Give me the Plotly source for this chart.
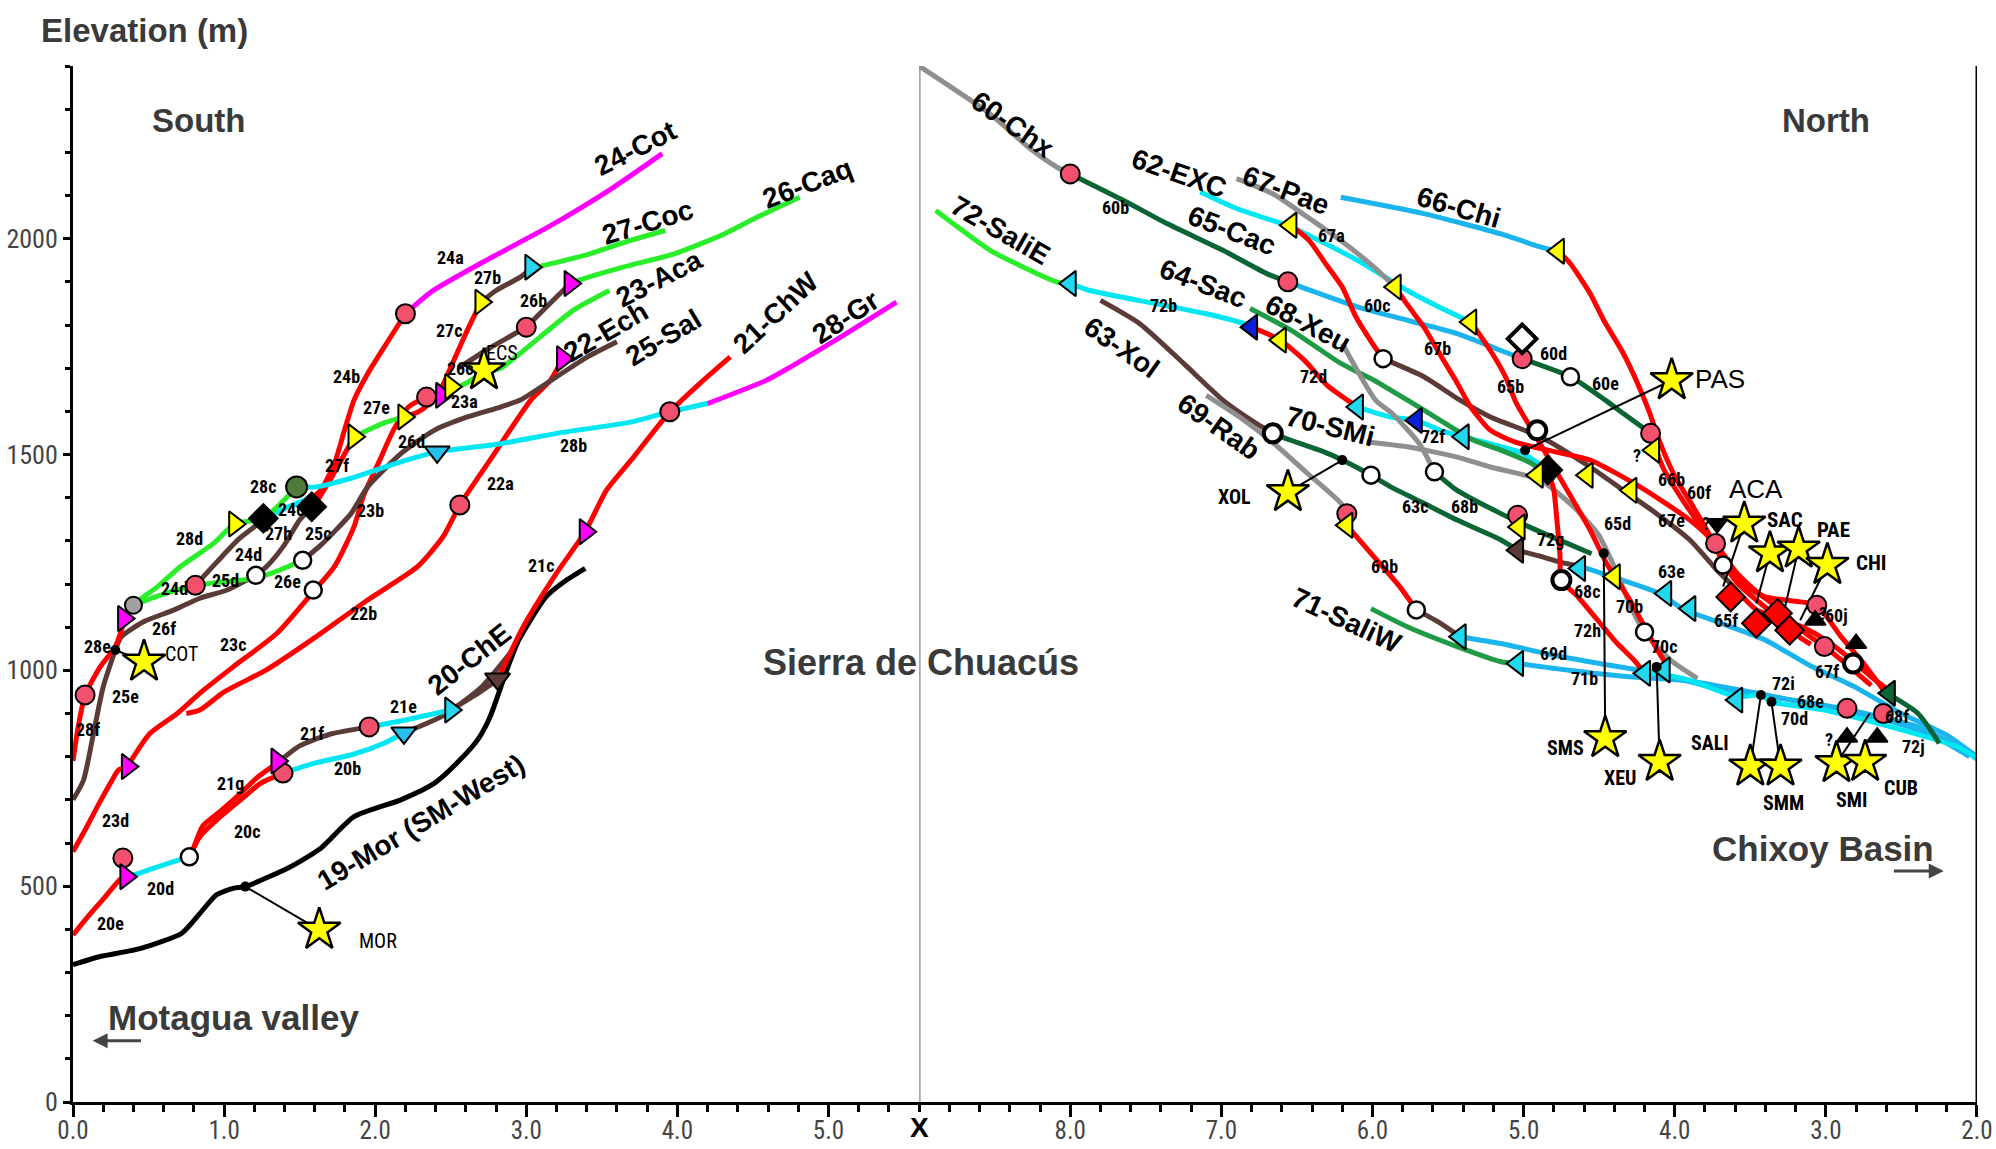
import plotly.graph_objects as go

# ---------------- colours ----------------
RED = "#ff0000"; MAG = "#ff00ff"; GRN = "#2aee2a"; CYN = "#00e6f2"; SKY = "#1cb4ec"
BRN = "#5b3b37"; DGR = "#0b6434"; MGR = "#1f9a45"; GRY = "#8f8f8f"; BLK = "#000000"
HALF = "#f2506c"

# ---------------- axis ticks ----------------
LEFT_TICKS = [0, 1, 2, 3, 4, 5]
RIGHT_TICKS = [8, 7, 6, 5, 4, 3, 2]
Y_TICKS = [0, 500, 1000, 1500, 2000]

# ---------------- SOUTH (left) river profiles: (distance km, elevation m) ----------------
seg_19_mor = [(0.00, 318), (0.18, 337), (0.45, 356), (0.72, 391), (0.84, 437), (0.95, 480), (1.06, 495),
              (1.14, 499), (1.44, 545), (1.64, 588), (1.86, 661), (2.17, 700), (2.39, 738), (2.56, 792),
              (2.68, 840), (2.76, 892), (2.87, 1000), (2.95, 1070), (3.13, 1170), (3.25, 1205), (3.39, 1236)]
seg_20e = [(0.00, 387), (0.10, 430), (0.20, 470), (0.31, 515), (0.35, 522)]
seg_20d = [(0.35, 522), (0.41, 527), (0.52, 540), (0.65, 555), (0.77, 568)]
seg_20c = [(0.77, 568), (0.84, 615), (0.95, 653), (1.11, 700), (1.24, 738), (1.39, 762)]
seg_20b = [(1.39, 762), (1.60, 785), (1.85, 805), (2.05, 830), (2.19, 855)]
seg_20a = [(2.19, 855), (2.45, 895), (2.70, 960), (2.90, 1043)]
seg_21g = [(0.79, 580), (0.86, 640), (0.97, 672), (1.10, 712), (1.22, 752), (1.35, 785)]
seg_21f = [(1.35, 785), (1.50, 825), (1.70, 852), (1.96, 869)]
seg_21e = [(1.96, 869), (2.20, 885), (2.50, 908)]
seg_21d = [(2.50, 908), (2.65, 940), (2.81, 978)]
seg_21c = [(2.81, 978), (2.98, 1101), (3.20, 1225), (3.39, 1321), (3.53, 1417), (3.71, 1494), (3.95, 1599),
           (4.15, 1665), (4.35, 1726)]
seg_22 = [(0.75, 900), (0.84, 908), (1.00, 950), (1.28, 1001), (1.61, 1078), (1.95, 1163), (2.28, 1240),
          (2.45, 1310), (2.56, 1383), (2.76, 1487), (3.03, 1626), (3.16, 1672), (3.24, 1722)]
seg_23d = [(0.00, 580), (0.08, 630), (0.17, 690), (0.25, 740), (0.30, 769), (0.36, 777)]
seg_23c = [(0.36, 777), (0.51, 854), (0.69, 900), (0.85, 950), (1.06, 1008), (1.35, 1086), (1.58, 1178),
           (1.73, 1240), (1.86, 1333), (1.92, 1402), (2.03, 1487), (2.12, 1556), (2.22, 1610), (2.34, 1633)]
seg_23a = [(2.34, 1633), (2.44, 1637), (2.60, 1665), (2.72, 1690), (2.83, 1700), (3.09, 1772), (3.31, 1834),
           (3.55, 1880)]
seg_24d = [(0.81, 1197), (0.95, 1250), (1.10, 1305), (1.26, 1348)]
seg_24c = [(1.26, 1348), (1.40, 1375), (1.59, 1402)]
seg_24b = [(1.59, 1402), (1.64, 1417), (1.73, 1479), (1.80, 1560), (1.86, 1626), (1.95, 1687), (2.06, 1749),
           (2.20, 1826)]
seg_24a = [(2.20, 1826), (2.38, 1879), (2.72, 1947), (3.14, 2026), (3.56, 2115), (3.90, 2197)]
seg_25e = [(0.00, 700), (0.07, 746), (0.14, 862), (0.20, 962), (0.28, 1047)]
seg_25d = [(0.28, 1047), (0.32, 1078), (0.47, 1113), (0.67, 1140), (0.84, 1167), (1.02, 1186), (1.21, 1220)]
seg_25c = [(1.21, 1220), (1.28, 1240), (1.39, 1286), (1.50, 1348), (1.58, 1379)]
seg_26e = [(0.40, 1151), (0.56, 1172), (0.81, 1197), (1.00, 1205), (1.20, 1213), (1.35, 1230), (1.52, 1255)]
seg_26d = [(1.52, 1255), (1.64, 1290), (1.84, 1363), (1.95, 1425), (2.17, 1502), (2.39, 1556), (2.61, 1587),
           (2.83, 1610), (2.96, 1626), (3.20, 1680), (3.40, 1725), (3.60, 1761)]
seg_26c = [(2.55, 1700), (2.75, 1745), (2.90, 1775), (3.00, 1795)]
seg_26b = [(3.00, 1795), (3.10, 1830), (3.20, 1865), (3.29, 1896)]
seg_26a = [(3.29, 1896), (3.36, 1905), (3.64, 1934), (3.98, 1965), (4.31, 2011), (4.53, 2050), (4.81, 2096)]
seg_27a = [(3.03, 1934), (3.09, 1936), (3.42, 1965), (3.69, 1996), (3.92, 2019)]
seg_27b = [(2.70, 1853), (2.80, 1880), (2.96, 1911), (3.03, 1930)]
seg_27c = [(2.70, 1853), (2.61, 1788), (2.52, 1718), (2.43, 1649), (2.35, 1615), (2.28, 1598), (2.19, 1587)]
seg_27e = [(2.19, 1587), (2.05, 1572), (1.95, 1556), (1.86, 1541)]
seg_27f = [(1.86, 1541), (1.78, 1490), (1.70, 1440), (1.62, 1395)]
seg_28f = [(0.00, 790), (0.03, 860), (0.08, 943), (0.18, 1008), (0.28, 1055), (0.34, 1115)]
seg_28d = [(0.34, 1115), (0.40, 1151), (0.56, 1194), (0.71, 1240), (0.93, 1294), (1.07, 1339), (1.26, 1352),
           (1.46, 1417), (1.48, 1425)]
seg_28b = [(1.48, 1425), (1.61, 1425), (1.84, 1445), (2.17, 1483), (2.41, 1506), (2.83, 1525), (3.20, 1549),
           (3.69, 1575), (3.95, 1599), (4.20, 1618)]
seg_28a = [(4.20, 1618), (4.59, 1672), (4.75, 1703), (5.08, 1772), (5.45, 1853)]

# ---------------- NORTH (right) river profiles ----------------
seg_60a = [(9.00, 2400), (8.53, 2289), (8.27, 2210), (8.09, 2166), (8.00, 2150)]
seg_60b = [(8.00, 2150), (7.65, 2089), (7.36, 2035), (6.99, 1973), (6.70, 1919), (6.56, 1900)]
seg_60c = [(6.56, 1900), (6.41, 1880), (6.10, 1842), (5.77, 1811), (5.44, 1780), (5.15, 1741), (5.01, 1722)]
seg_60e = [(5.01, 1722), (4.69, 1680), (4.46, 1626), (4.34, 1595), (4.16, 1549)]
seg_60f = [(4.16, 1549), (4.08, 1471), (3.94, 1390), (3.81, 1325), (3.70, 1270), (3.55, 1200), (3.40, 1170),
           (3.20, 1160), (3.06, 1151), (2.90, 1078), (2.75, 1016), (2.61, 950)]
seg_60k = [(2.61, 950), (2.39, 900), (2.25, 831)]
seg_66a = [(6.21, 2096), (5.66, 2058), (5.15, 2011), (4.89, 1981), (4.77, 1971)]
seg_66b = [(4.77, 1971), (4.69, 1942), (4.56, 1873), (4.47, 1811), (4.34, 1734), (4.24, 1660), (4.17, 1600),
           (4.10, 1530), (4.00, 1450), (3.88, 1380), (3.78, 1320), (3.68, 1250), (3.58, 1200), (3.45, 1160),
           (3.30, 1120), (3.15, 1100), (3.00, 1070), (2.85, 1030), (2.70, 985), (2.57, 950)]
seg_62a = [(7.14, 2108), (6.90, 2070), (6.54, 2027), (6.10, 1950), (5.77, 1880), (5.55, 1840), (5.35, 1807)]
seg_62b = [(5.35, 1807), (5.22, 1741), (5.12, 1680), (5.05, 1620), (4.95, 1560), (4.84, 1495), (4.70, 1410),
           (4.56, 1325), (4.45, 1247), (4.38, 1209), (4.27, 1147), (4.20, 1101), (4.12, 1050), (4.05, 1010)]
seg_65a = [(6.54, 2031), (6.42, 1996), (6.31, 1942), (6.20, 1888), (6.11, 1819), (6.00, 1757), (5.93, 1722)]
seg_65b = [(5.93, 1722), (5.66, 1680), (5.44, 1630), (5.22, 1587), (4.89, 1541), (4.56, 1471), (4.34, 1417),
           (4.12, 1363), (3.90, 1302), (3.72, 1232), (3.63, 1201)]
seg_65f = [(3.63, 1201), (3.55, 1170), (3.46, 1140), (3.32, 1120), (3.24, 1093), (3.10, 1060)]
seg_67a = [(6.90, 2139), (6.66, 2104), (6.43, 2050), (6.21, 1996), (5.99, 1934), (5.85, 1888)]
seg_67b = [(5.85, 1888), (5.79, 1857), (5.66, 1795), (5.53, 1718), (5.45, 1672), (5.35, 1610), (5.22, 1556),
           (5.05, 1528), (4.84, 1510), (4.56, 1487), (4.23, 1425), (3.90, 1348), (3.73, 1294), (3.60, 1230),
           (3.45, 1180), (3.30, 1140), (3.15, 1090), (3.01, 1055), (2.85, 1010), (2.70, 965)]
seg_72a = [(8.89, 2065), (8.53, 1973), (8.31, 1934), (8.09, 1900), (8.00, 1896)]
seg_72b = [(8.00, 1896), (7.87, 1880), (7.43, 1849), (7.10, 1826), (6.85, 1803), (6.80, 1795)]
seg_72d = [(6.80, 1795), (6.61, 1765), (6.45, 1718), (6.30, 1660), (6.10, 1610)]
seg_72f = [(6.10, 1610), (5.88, 1587), (5.71, 1579), (5.55, 1556), (5.40, 1541), (5.15, 1518), (5.00, 1502),
           (4.84, 1464)]
seg_72g = [(4.84, 1464), (4.80, 1417), (4.78, 1348), (4.76, 1271), (4.75, 1209), (4.64, 1170), (4.51, 1116),
           (4.38, 1062), (4.27, 1024), (4.20, 993)]
seg_72i = [(4.20, 993), (4.12, 993), (3.90, 977), (3.59, 939), (3.43, 943), (3.36, 927), (3.01, 908),
           (2.57, 869), (2.13, 823), (2.00, 796)]
seg_63a = [(7.80, 1857), (7.54, 1803), (7.25, 1711), (6.99, 1626), (6.77, 1572), (6.66, 1549)]
seg_63c = [(6.66, 1549), (6.54, 1533), (6.32, 1506), (6.20, 1487), (6.01, 1452), (5.88, 1425), (5.66, 1387),
           (5.44, 1348), (5.15, 1302), (5.04, 1278)]
seg_63d = [(5.04, 1278), (4.90, 1265), (4.75, 1250), (4.62, 1240)]
seg_63e = [(4.62, 1240), (4.40, 1215), (4.10, 1178), (3.95, 1143), (3.70, 1110), (3.40, 1070), (3.10, 1010),
           (2.80, 960), (2.50, 900), (2.20, 850), (2.00, 800)]
seg_68a = [(6.81, 1838), (6.54, 1788), (6.21, 1711), (5.99, 1672), (5.88, 1649), (5.66, 1603), (5.33, 1533),
           (5.15, 1510), (4.95, 1480), (4.80, 1440)]
seg_68g = [(6.20, 1757), (5.98, 1626), (5.87, 1595), (5.69, 1525), (5.59, 1460)]
seg_68b = [(5.59, 1460), (5.44, 1417), (5.15, 1363), (4.95, 1330), (4.75, 1300), (4.55, 1270)]
seg_69a = [(7.10, 1637), (6.88, 1587), (6.65, 1525), (6.43, 1456), (6.20, 1383), (6.17, 1350)]
seg_69b = [(6.17, 1336), (5.99, 1263), (5.82, 1194), (5.71, 1140)]
seg_69c = [(5.71, 1140), (5.55, 1109), (5.42, 1078)]
seg_69d = [(5.42, 1078), (5.15, 1062), (4.80, 1035), (4.40, 1010), (4.12, 993), (3.68, 955), (3.20, 930),
           (2.80, 905), (2.40, 870), (2.13, 823), (2.00, 795)]
seg_70a = [(6.04, 1529), (5.77, 1518), (5.44, 1494), (5.22, 1471), (4.89, 1441), (4.67, 1379), (4.51, 1317),
           (4.40, 1240), (4.29, 1147), (4.20, 1089), (4.03, 1024), (3.85, 981)]
seg_71a = [(6.01, 1143), (5.77, 1101), (5.44, 1055), (5.15, 1020), (5.04, 1016)]
seg_71b = [(5.04, 1016), (4.70, 1000), (4.30, 985), (3.90, 975), (3.50, 950), (3.00, 915), (2.60, 885),
           (2.30, 850), (2.05, 800)]

LEFT_SEGMENTS = [
    (BLK, seg_19_mor), (RED, seg_20e), (CYN, seg_20d), (RED, seg_20c), (CYN, seg_20b), (BRN, seg_20a),
    (RED, seg_21g), (BRN, seg_21f), (CYN, seg_21e), (BRN, seg_21d), (RED, seg_21c), (RED, seg_22),
    (RED, seg_23d), (RED, seg_23c), (GRN, seg_23a), (BRN, seg_24d), (CYN, seg_24c), (RED, seg_24b),
    (MAG, seg_24a), (BRN, seg_25e), (BRN, seg_25d), (BRN, seg_25c), (GRN, seg_26e), (BRN, seg_26d),
    (BRN, seg_26c), (BRN, seg_26b), (GRN, seg_26a), (GRN, seg_27a), (BRN, seg_27b), (RED, seg_27c),
    (GRN, seg_27e), (RED, seg_27f), (RED, seg_28f), (GRN, seg_28d), (CYN, seg_28b), (MAG, seg_28a),
]
RIGHT_SEGMENTS = [
    (GRY, seg_60a), (DGR, seg_60b), (SKY, seg_60c), (DGR, seg_60e), (SKY, seg_66a), (CYN, seg_62a),
    (GRY, seg_67a), (GRN, seg_72a), (CYN, seg_72b), (RED, seg_72d), (CYN, seg_72f), (BRN, seg_63a),
    (DGR, seg_63c), (BRN, seg_63d), (SKY, seg_63e), (MGR, seg_68a), (GRY, seg_68g), (DGR, seg_68b),
    (GRY, seg_69a), (RED, seg_69b), (BRN, seg_69c), (SKY, seg_69d), (GRY, seg_70a), (MGR, seg_71a),
    (SKY, seg_71b), (CYN, seg_72i), (DGR, seg_60k), (BRN, seg_65b), (RED, seg_62b), (RED, seg_65a),
    (RED, seg_67b), (RED, seg_66b), (RED, seg_60f), (RED, seg_65f), (RED, seg_72g),
]

# ---------------- sample sites (stars) and links to the profiles ----------------
LEFT_STARS = [(0.47, 1020), (1.63, 399), (2.72, 1695)]
LEFT_STAR_NAMES = [("COT", 0.72, 1039), ("MOR", 2.02, 372), ("ECS", 2.84, 1736)]
LEFT_LINKS = [[(0.28, 1047), (0.47, 1020)], [(1.14, 499), (1.63, 399)]]
RIGHT_STARS = [(4.02, 1672), (3.54, 1340), (3.37, 1271), (3.18, 1282), (2.99, 1244), (4.46, 843), (4.10, 788),
               (3.50, 777), (3.30, 777), (2.93, 785), (2.74, 788), (6.56, 1413)]
RIGHT_LINKS = [[(4.99, 1510), (4.02, 1672)], [(3.68, 1194), (3.54, 1340)], [(3.46, 1155), (3.37, 1271)],
               [(3.28, 1132), (3.18, 1282)], [(3.17, 1116), (2.99, 1244)], [(4.47, 1271), (4.46, 843)],
               [(4.12, 1008), (4.10, 788)], [(3.43, 943), (3.50, 777)], [(3.36, 927), (3.30, 777)],
               [(2.71, 900), (2.93, 785)], [(6.20, 1487), (6.56, 1413)]]

# ---------------- point symbols along the profiles ----------------
L_HALF = [(0.08, 943), (0.33, 565), (1.39, 762), (1.96, 869), (3.95, 1599), (2.56, 1383), (0.81, 1197),
          (2.20, 1826), (2.34, 1633), (3.00, 1795)]
L_OPEN = [(0.77, 568), (1.21, 1220), (1.52, 1255), (1.59, 1186)]
L_GREYC = [(0.40, 1151)]
L_GBC = [(1.48, 1425)]
L_MAG_TRI = [(0.35, 522), (0.36, 777), (0.335, 1120), (1.35, 790), (3.39, 1321), (3.24, 1722), (2.44, 1637),
             (3.29, 1896)]
L_YEL_TRI = [(1.07, 1339), (1.86, 1541), (2.19, 1587), (2.70, 1853), (2.50, 1657)]
L_CYN_DOWN = [(2.19, 855), (2.41, 1506)]
L_CYN_RIGHT = [(2.50, 908), (3.03, 1934)]
L_BRN_DOWN = [(2.81, 980)]
L_DIAM = [(1.26, 1352), (1.58, 1379)]
L_DOTS = [(0.28, 1047), (1.14, 499)]

R_HALF = [(8.00, 2150), (6.56, 1900), (5.01, 1722), (4.16, 1549), (6.17, 1363), (3.73, 1294), (3.06, 1151),
          (3.01, 1055), (5.04, 1359), (2.86, 912), (2.62, 900)]
R_OPEN = [(5.93, 1722), (4.69, 1680), (6.01, 1452), (5.59, 1460), (5.71, 1140), (4.20, 1089), (3.68, 1244)]
R_BW = [(6.66, 1549), (4.91, 1556), (4.75, 1209), (2.82, 1016)]
R_WDIAM = [(5.01, 1768)]
R_BDIAM = [(4.84, 1464)]
R_RDIAM = [(3.63, 1170), (3.46, 1109), (3.32, 1132), (3.24, 1093)]
R_YEL_TRI = [(6.54, 2031), (5.85, 1888), (5.35, 1807), (4.77, 1971), (6.61, 1765), (6.17, 1336), (4.58, 1452),
             (4.29, 1417), (4.14, 1510), (4.91, 1452), (5.03, 1332), (4.40, 1217)]
R_CYN_TRI = [(8.00, 1896), (6.10, 1610), (5.40, 1541), (5.42, 1078), (5.04, 1016), (4.63, 1236), (4.06, 1178),
             (3.90, 1143), (4.20, 993), (4.07, 1001), (3.59, 931)]
R_BLU_TRI = [(6.80, 1795), (5.71, 1579)]
R_BRN_TRI = [(5.04, 1278)]
R_DGR_TRI = [(2.58, 947)]
R_BLK_DOWN = [(3.72, 1340)]
R_BLK_UP = [(3.07, 1116), (2.80, 1062), (2.86, 845), (2.66, 845)]
R_DOTS = [(6.20, 1487), (4.99, 1510), (3.43, 943), (3.36, 927), (4.12, 1008), (4.47, 1271)]

# ---------------- labels ----------------
LEFT_BIG = [("24-Cot", 3.72, 2208, -27), ("27-Coc", 3.80, 2038, -17), ("26-Caq", 4.86, 2127, -21),
            ("23-Aca", 3.88, 1907, -27), ("22-Ech", 3.53, 1784, -30), ("25-Sal", 3.91, 1772, -31),
            ("21-ChW", 4.65, 1830, -43), ("28-Gr", 5.11, 1818, -33), ("20-ChE", 2.62, 1026, -38),
            ("19-Mor (SM-West)", 2.30, 648, -31)]
RIGHT_BIG = [("60-Chx", 8.38, 2265, 35), ("62-EXC", 7.28, 2150, 19), ("65-Cac", 6.93, 2019, 21),
             ("67-Pae", 6.57, 2112, 21), ("66-Chi", 5.43, 2073, 16), ("64-Sac", 7.12, 1896, 21),
             ("68-Xeu", 6.43, 1803, 28), ("63-Xol", 7.66, 1749, 35), ("72-SaliE", 8.46, 2019, 30),
             ("69-Rab", 7.02, 1564, 35), ("70-SMi", 6.28, 1564, 14), ("71-SaliW", 6.17, 1116, 25)]
LEFT_SMALL = [("24a", 2.50, 1957), ("27b", 2.74, 1911), ("27c", 2.49, 1788), ("24b", 1.81, 1680),
              ("26c", 2.56, 1699), ("23a", 2.59, 1622), ("27e", 2.01, 1610), ("27f", 1.75, 1475),
              ("26d", 2.24, 1529), ("28c", 1.26, 1425), ("24c", 1.44, 1372), ("27h", 1.36, 1316),
              ("25c", 1.62, 1316), ("23b", 1.97, 1371), ("28d", 0.77, 1305), ("24d", 1.16, 1268),
              ("25d", 1.01, 1209), ("24d", 0.67, 1190), ("26e", 1.42, 1205), ("26f", 0.60, 1097),
              ("28e", 0.16, 1055), ("25e", 0.35, 939), ("28f", 0.10, 862), ("23c", 1.06, 1059),
              ("22b", 1.92, 1132), ("22a", 2.83, 1433), ("28b", 3.31, 1522), ("21c", 3.10, 1244),
              ("21e", 2.19, 916), ("21f", 1.58, 854), ("20b", 1.82, 773), ("21g", 1.04, 738),
              ("20c", 1.15, 626), ("23d", 0.28, 653), ("20d", 0.58, 495), ("20e", 0.25, 414),
              ("26b", 3.05, 1857)]
RIGHT_SMALL = [("60b", 7.70, 2073), ("67a", 6.27, 2008), ("60c", 5.97, 1846), ("72b", 7.38, 1846),
               ("72d", 6.39, 1680), ("67b", 5.57, 1745), ("60d", 4.80, 1734), ("60e", 4.46, 1664),
               ("65b", 5.09, 1657), ("72f", 5.60, 1541), ("63c", 5.72, 1379), ("68b", 5.39, 1379),
               ("69b", 5.92, 1240), ("72g", 4.82, 1302), ("65d", 4.38, 1340), ("66b", 4.02, 1441),
               ("60f", 3.84, 1413), ("67e", 4.02, 1348), ("63e", 4.02, 1228), ("68c", 4.58, 1182),
               ("70b", 4.30, 1147), ("72h", 4.58, 1093), ("65f", 3.66, 1116), ("60j", 2.93, 1128),
               ("69d", 4.80, 1039), ("71b", 4.60, 981), ("70c", 4.07, 1055), ("67f", 2.99, 997),
               ("72i", 3.28, 970), ("68e", 3.10, 927), ("70d", 3.21, 889), ("68f", 2.53, 893),
               ("72j", 2.42, 823)]
RIGHT_QMARKS = [(3.79, 1340), (4.25, 1498), (3.02, 1132), (2.98, 839)]
RIGHT_STAR_NAMES = [("PAS", 3.70, 1676, 26), ("ACA", 3.46, 1421, 26), ("SAC", 3.27, 1348, 21),
                    ("PAE", 2.95, 1325, 21), ("CHI", 2.70, 1248, 21), ("SMS", 4.72, 819, 20),
                    ("SALI", 3.77, 831, 20), ("XEU", 4.36, 750, 20), ("SMM", 3.28, 692, 20),
                    ("SMI", 2.83, 700, 20), ("CUB", 2.50, 727, 20), ("XOL", 6.91, 1402, 20)]

NARROW = "Liberation Sans Narrow, Arial Narrow, Roboto Condensed, DejaVu Sans Condensed, Arial, sans-serif"
SANS = "Liberation Sans, Arial, Helvetica, sans-serif"

fig = go.Figure()


def add_line(pts, color, axis, width=5):
    fig.add_trace(go.Scatter(x=[p[0] for p in pts], y=[p[1] for p in pts], mode="lines",
                             line=dict(color=color, width=width, shape="spline", smoothing=0.6),
                             xaxis=axis, yaxis="y", hoverinfo="skip", showlegend=False))


def add_marks(pts, axis, symbol, size, fill, lw=2, lc=BLK):
    fig.add_trace(go.Scatter(x=[p[0] for p in pts], y=[p[1] for p in pts], mode="markers",
                             marker=dict(symbol=symbol, size=size, color=fill, line=dict(color=lc, width=lw)),
                             xaxis=axis, yaxis="y", hoverinfo="skip", showlegend=False, cliponaxis=False))


for col, pts in LEFT_SEGMENTS:
    add_line(pts, col, "x")
for col, pts in RIGHT_SEGMENTS:
    add_line(pts, col, "x2")
for pts in LEFT_LINKS:
    add_line(pts, BLK, "x", width=2)
for pts in RIGHT_LINKS:
    add_line(pts, BLK, "x2", width=2)

# left symbols
add_marks(L_HALF, "x", "circle", 19, HALF)
add_marks(L_OPEN, "x", "circle", 17, "white", lw=2.5)
add_marks(L_GREYC, "x", "circle", 17, "#a0a0a0")
add_marks(L_GBC, "x", "circle", 21, "#4f7a3a")
add_marks(L_MAG_TRI, "x", "triangle-right", 22, MAG)
add_marks(L_YEL_TRI, "x", "triangle-right", 22, "#ffff00")
add_marks(L_CYN_DOWN, "x", "triangle-down", 22, "#27c0ee")
add_marks(L_CYN_RIGHT, "x", "triangle-right", 22, "#27d5ee")
add_marks(L_BRN_DOWN, "x", "triangle-down", 22, BRN)
add_marks(L_DIAM, "x", "diamond", 22, BLK)
add_marks(L_DOTS, "x", "circle", 10, BLK, lw=0)
add_marks(LEFT_STARS, "x", "star", 32, "#ffff00", lw=2.5)

# right symbols
add_marks(R_HALF, "x2", "circle", 19, HALF)
add_marks(R_OPEN, "x2", "circle", 17, "white", lw=2.5)
add_marks(R_BW, "x2", "circle", 18, "#ffffff", lw=4)
add_marks(R_WDIAM, "x2", "diamond", 22, "white", lw=4)
add_marks(R_BDIAM, "x2", "diamond", 22, BLK)
add_marks(R_RDIAM, "x2", "diamond", 22, RED)
add_marks(R_YEL_TRI, "x2", "triangle-left", 22, "#ffff00")
add_marks(R_CYN_TRI, "x2", "triangle-left", 22, "#22d8ee")
add_marks(R_BLU_TRI, "x2", "triangle-left", 22, "#0a1fd8")
add_marks(R_BRN_TRI, "x2", "triangle-left", 22, BRN)
add_marks(R_DGR_TRI, "x2", "triangle-left", 22, DGR)
add_marks(R_BLK_DOWN, "x2", "triangle-down", 18, BLK)
add_marks(R_BLK_UP, "x2", "triangle-up", 18, BLK)
add_marks(R_DOTS, "x2", "circle", 10, BLK, lw=0)
add_marks(RIGHT_STARS, "x2", "star", 32, "#ffff00", lw=2.5)

ann = []
for t, x, y, a in LEFT_BIG:
    ann.append(dict(text=t, x=x, y=y, xref="x", yref="y", showarrow=False, textangle=a,
                    font=dict(family=SANS, size=28, color=BLK, weight="bold")))
for t, x, y, a in RIGHT_BIG:
    ann.append(dict(text=t, x=x, y=y, xref="x2", yref="y", showarrow=False, textangle=a,
                    font=dict(family=SANS, size=28, color=BLK, weight="bold")))
for t, x, y in LEFT_SMALL:
    ann.append(dict(text=t, x=x, y=y, xref="x", yref="y", showarrow=False,
                    font=dict(family=NARROW, size=18, color=BLK, weight="bold")))
for t, x, y in RIGHT_SMALL:
    ann.append(dict(text=t, x=x, y=y, xref="x2", yref="y", showarrow=False,
                    font=dict(family=NARROW, size=18, color=BLK, weight="bold")))
for x, y in RIGHT_QMARKS:
    ann.append(dict(text="?", x=x, y=y, xref="x2", yref="y", showarrow=False,
                    font=dict(family=NARROW, size=18, color=BLK, weight="bold")))
for t, x, y in LEFT_STAR_NAMES:
    ann.append(dict(text=t, x=x, y=y, xref="x", yref="y", showarrow=False,
                    font=dict(family=NARROW, size=20, color=BLK)))
for t, x, y, s in RIGHT_STAR_NAMES:
    ann.append(dict(text=t, x=x, y=y, xref="x2", yref="y", showarrow=False,
                    font=dict(family=NARROW if s < 22 else SANS, size=s, color=BLK,
                              weight="bold" if s < 22 else "normal")))

GREYTXT = "#3a3a3a"
ann += [
    dict(text="Elevation (m)", x=-0.0179, y=1.0344, xref="paper", yref="paper", xanchor="left",
         yanchor="middle", showarrow=False, font=dict(family=SANS, size=33, color=GREYTXT, weight="bold")),
    dict(text="South", x=0.83, y=2274, xref="x", yref="y", showarrow=False,
         font=dict(family=SANS, size=33, color=GREYTXT, weight="bold")),
    dict(text="North", x=3.00, y=2274, xref="x2", yref="y", showarrow=False,
         font=dict(family=SANS, size=33, color=GREYTXT, weight="bold")),
    dict(text="Sierra de Chuacús", x=8.99, y=1019, xref="x2", yref="y", showarrow=False,
         font=dict(family=SANS, size=36, color=GREYTXT, weight="bold")),
    dict(text="Motagua valley", x=1.06, y=195, xref="x", yref="y", showarrow=False,
         font=dict(family=SANS, size=35, color=GREYTXT, weight="bold")),
    dict(text="Chixoy Basin", x=3.02, y=588, xref="x2", yref="y", showarrow=False,
         font=dict(family=SANS, size=35, color=GREYTXT, weight="bold")),
    dict(text="", x=0.13, y=142, ax=0.46, ay=142, xref="x", yref="y", axref="x", ayref="y",
         showarrow=True, arrowhead=2, arrowsize=1, arrowwidth=3, arrowcolor="#444444"),
    dict(text="", x=2.22, y=535, ax=2.56, ay=535, xref="x2", yref="y", axref="x2", ayref="y",
         showarrow=True, arrowhead=2, arrowsize=1, arrowwidth=3, arrowcolor="#444444"),
    dict(text="X", x=0.4444, y=-0.025, xref="paper", yref="paper", xanchor="center", yanchor="middle",
         showarrow=False, font=dict(family=SANS, size=28, color=BLK, weight="bold")),
]

shapes = [
    dict(type="line", xref="x2", yref="y", x0=9.0, x1=9.0, y0=0, y1=2400, line=dict(color="#999999", width=3),
         layer="below"),
    dict(type="line", xref="x2", yref="y", x0=2.0, x1=2.0, y0=0, y1=2400, line=dict(color=BLK, width=3)),
]

xtickfont = dict(family=NARROW, size=25, color="#444444")
ytickfont = dict(family=NARROW, size=26, color="#444444")
xcommon = dict(ticks="outside", ticklen=12, tickwidth=3, tickcolor=BLK, showline=True, linecolor=BLK,
               linewidth=3, showgrid=False, zeroline=False, anchor="y", tickfont=xtickfont, tickmode="array",
               automargin=False, ticklabelstandoff=-8,
               minor=dict(tickmode="linear", tick0=0, dtick=0.2, ticks="outside", ticklen=7, tickwidth=3,
                          tickcolor=BLK, showgrid=False))

fig.update_layout(
    width=1996, height=1149, autosize=False,
    margin=dict(l=73, r=19, t=66, b=47, autoexpand=False),
    plot_bgcolor="white", paper_bgcolor="white",
    xaxis=dict(domain=[0, 0.4444], range=[0, 5.6], tickvals=LEFT_TICKS,
               ticktext=["%.1f" % v for v in LEFT_TICKS], **xcommon),
    xaxis2=dict(domain=[0.4444, 1.0], range=[9.0, 2.0], tickvals=RIGHT_TICKS,
                ticktext=["%.1f" % v for v in RIGHT_TICKS], **xcommon),
    yaxis=dict(range=[0, 2400], tickmode="array", tickvals=Y_TICKS, ticks="outside", ticklen=7, tickwidth=3,
               tickcolor=BLK, showline=True, linecolor=BLK, linewidth=3, showgrid=False, zeroline=False,
               anchor="x", tickfont=ytickfont, automargin=False,
               minor=dict(tickmode="linear", tick0=0, dtick=100, ticks="outside", ticklen=5, tickwidth=3,
                          tickcolor=BLK, showgrid=False)),
    annotations=ann, shapes=shapes, showlegend=False,
)

fig.write_html("out.html")
